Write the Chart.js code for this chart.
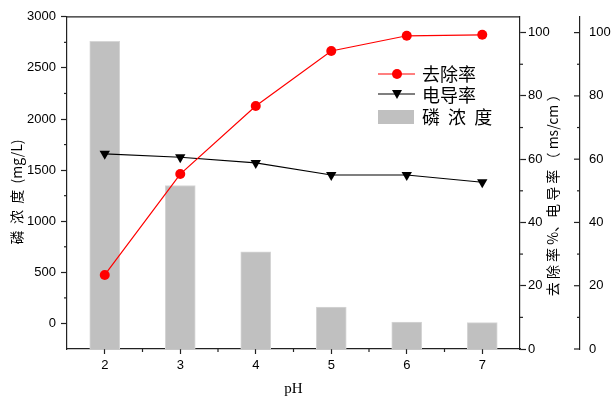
<!DOCTYPE html>
<html lang="zh">
<head>
<meta charset="UTF-8">
<title>pH 对磷浓度、去除率和电导率的影响</title>
<script src="https://cdn.jsdelivr.net/npm/chart.js"></script>
<style>
  html, body { margin: 0; padding: 0; background: #fff; }
  canvas { display: block; }
</style>
</head>
<body>
<canvas id="chart" width="614" height="398"></canvas>
<script>
// data
const phValues = [2, 3, 4, 5, 6, 7];
const phosphorus = [2760, 1350, 700, 160, 14, 8];           // 磷浓度 mg/L
const removalRate = [23.4, 55.3, 76.8, 94.2, 99.0, 99.3];   // 去除率 %
const conductivity = [61.7, 60.6, 58.8, 55.0, 55.0, 52.7];  // 电导率 ms/cm

const xTicks = [2, 3, 4, 5, 6, 7];
const xMinor = [2.5, 3.5, 4.5, 5.5, 6.5];
const leftTicks = [0, 500, 1000, 1500, 2000, 2500, 3000];
const leftMinor = [250, 750, 1250, 1750, 2250, 2750];
const rightTicks = [0, 20, 40, 60, 80, 100];
const rightMinor = [10, 30, 50, 70, 90];

const leftMin = -250, leftMax = 3000;
const axisColor = '#222';
const tickFont = { family: "'Liberation Sans', Arial, sans-serif", size: 13 };
const cjkFont = "'Noto Sans CJK SC', sans-serif";

const pts = vals => phValues.map((x, i) => ({ x: x, y: vals[i] }));
const setTicks = list => scale => { scale.ticks = list.map(v => ({ value: v })); };
const plain = v => String(v);

// extra pieces: top frame, minor ticks, outer axis ticks, axis titles, legend
const decor = {
  id: 'decor',
  afterDraw(chart) {
    const { ctx, chartArea: a, scales } = chart;
    const line = (x1, y1, x2, y2) => { ctx.beginPath(); ctx.moveTo(x1, y1); ctx.lineTo(x2, y2); ctx.stroke(); };
    ctx.save();
    ctx.strokeStyle = axisColor;
    ctx.lineWidth = 1.2;
    line(a.left, a.top, a.right, a.top);

    xMinor.forEach(v => { const x = scales.x.getPixelForValue(v); line(x, a.bottom, x, a.bottom + 3); });
    leftMinor.forEach(v => { const y = scales.y.getPixelForValue(v); line(a.left - 3, y, a.left, y); });
    rightMinor.forEach(v => { const y = scales.y1.getPixelForValue(v); line(a.right, y, a.right + 3, y); });

    const ox = scales.y2.left;
    rightTicks.forEach(v => { const y = scales.y2.getPixelForValue(v); line(ox - 6, y, ox, y); });
    rightMinor.forEach(v => { const y = scales.y2.getPixelForValue(v); line(ox - 3, y, ox, y); });

    // vertical axis titles, both read bottom to top
    const midY = (a.top + a.bottom) / 2 + 9;
    const vTitle = (text, x) => {
      ctx.save();
      ctx.translate(x, midY);
      ctx.rotate(-Math.PI / 2);
      ctx.fillStyle = '#000';
      ctx.font = '14px ' + cjkFont;
      ctx.textAlign = 'center';
      ctx.textBaseline = 'middle';
      ctx.fillText(text, 0, 0);
      ctx.restore();
    };
    vTitle('磷  浓  度  (mg/L)', 17);
    vTitle('去 除 率 %、电 导 率 （ ms/cm ）', scales.y1.right - 27);

    // legend
    const lx = 378, tx = 422;
    ctx.font = '18px ' + cjkFont;
    ctx.textBaseline = 'middle';

    ctx.strokeStyle = '#ff0000'; ctx.lineWidth = 1.2;
    line(lx, 74, lx + 37, 74);
    ctx.fillStyle = '#ff0000';
    ctx.beginPath(); ctx.arc(lx + 19, 74, 5, 0, Math.PI * 2); ctx.fill();

    ctx.strokeStyle = '#000';
    line(lx, 94, lx + 37, 94);
    ctx.fillStyle = '#000';
    ctx.beginPath(); ctx.moveTo(lx + 14, 90); ctx.lineTo(lx + 24, 90); ctx.lineTo(lx + 19, 99); ctx.closePath(); ctx.fill();

    ctx.fillStyle = '#c0c0c0';
    ctx.fillRect(lx, 110, 36, 14);

    ctx.fillStyle = '#000';
    ctx.fillText('去除率', tx, 74);
    ctx.fillText('电导率', tx, 95);
    ctx.fillText('磷  浓  度', tx, 117);
    ctx.restore();
  }
};

new Chart(document.getElementById('chart'), {
  data: {
    datasets: [
      {
        type: 'line', label: '去除率', data: pts(removalRate), yAxisID: 'y1', order: 1,
        borderColor: '#ff0000', borderWidth: 1.2, backgroundColor: '#ff0000',
        pointRadius: 5, pointStyle: 'circle', pointBorderWidth: 0
      },
      {
        type: 'line', label: '电导率', data: pts(conductivity), yAxisID: 'y1', order: 2,
        borderColor: '#000', borderWidth: 1.2, backgroundColor: '#000',
        pointRadius: 6, pointStyle: 'triangle', pointRotation: 180, pointBorderWidth: 0
      },
      {
        type: 'bar', label: '磷 浓 度', data: pts(phosphorus), yAxisID: 'y', order: 3,
        backgroundColor: '#c0c0c0', borderColor: '#d6d6d6', borderWidth: 1,
        barThickness: 30, base: leftMin
      }
    ]
  },
  options: {
    responsive: false,
    animation: false,
    layout: { padding: { top: 14, left: 0, right: 0, bottom: 0 } },
    plugins: { legend: { display: false }, tooltip: { enabled: false } },
    scales: {
      x: {
        type: 'linear', min: 1.5, max: 7.5, offset: false,
        afterBuildTicks: setTicks(xTicks),
        afterFit: s => { s.height = 49; },
        grid: { drawOnChartArea: false, offset: false, tickLength: 5, color: axisColor, tickWidth: 1.2 },
        border: { color: axisColor, width: 1.2 },
        ticks: { font: tickFont, color: '#000', padding: 4, callback: plain },
        title: { display: true, text: 'pH', color: '#000', padding: { top: 0, bottom: 0 },
                 font: { family: "'Liberation Serif', serif", size: 15 } }
      },
      y: {
        type: 'linear', position: 'left', min: leftMin, max: leftMax,
        afterBuildTicks: setTicks(leftTicks),
        afterFit: s => { s.width = 67; },
        grid: { drawOnChartArea: false, tickLength: 6, color: axisColor, tickWidth: 1.2 },
        border: { color: axisColor, width: 1.2 },
        ticks: { font: tickFont, color: '#000', padding: 5, callback: plain }
      },
      y1: {
        type: 'linear', position: 'right', min: 0, max: 105,
        afterBuildTicks: setTicks(rightTicks),
        afterFit: s => { s.width = 60; },
        grid: { drawOnChartArea: false, tickLength: 6, color: axisColor, tickWidth: 1.2 },
        border: { color: axisColor, width: 1.2 },
        ticks: { font: tickFont, color: '#000', padding: 2, callback: plain }
      },
      y2: {
        type: 'linear', position: 'right', min: 0, max: 105,
        afterBuildTicks: setTicks(rightTicks),
        afterFit: s => { s.width = 34; },
        grid: { drawOnChartArea: false, drawTicks: false },
        border: { color: axisColor, width: 1.2 },
        ticks: { font: tickFont, color: '#000', padding: 9, callback: plain }
      }
    }
  },
  plugins: [decor]
});
</script>
</body>
</html>
